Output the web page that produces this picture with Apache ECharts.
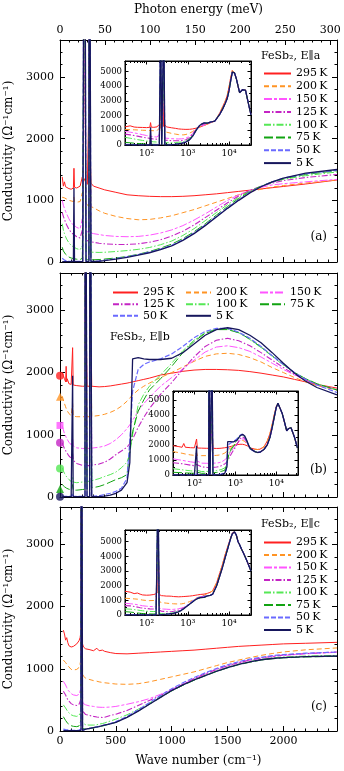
<!DOCTYPE html>
<html lang="en">
<head>
<meta charset="UTF-8">
<title>FeSb2 optical conductivity</title>
<style>
  html, body { margin: 0; padding: 0; background: #fff; }
  #main { width: 344px; height: 771px; }
</style>
</head>
<body>
<div id="main"></div>
<script src="https://cdn.jsdelivr.net/npm/echarts@6.0.0/dist/echarts.min.js"></script>
<script>
var FONT = "'DejaVu Serif', serif";

var temps = ['295\u2009K', '200\u2009K', '150\u2009K', '125\u2009K', '100\u2009K', '75\u2009K', '50\u2009K', '5\u2009K'];
var colors = ['#ff2020', '#ff9424', '#ff55ff', '#c424c4', '#55e855', '#12a312', '#6a6aff', '#16165c'];
var dashes = ['solid', [5, 3], [8, 2, 3, 2], [6, 2, 1.5, 2], [7, 2, 1.5, 2], [9, 3], [5, 2], 'solid'];
var widths = [1, 1, 1, 1.1, 1, 1, 1.2, 1.3];

// E||a  (wave number in cm-1, conductivity in 1/(Ohm cm))
var waveA = [20, 30, 40, 50, 60, 80, 100, 120, 125, 130, 150, 180, 196, 200, 204, 217, 219, 231, 233, 245, 259, 261, 275, 277, 300, 350, 400, 500, 600, 700, 800, 900, 1000, 1100, 1200, 1300, 1400, 1500, 1600, 1700, 1800, 1900, 2000, 2200, 2480];
var a295 = [1380, 1230, 1300, 1220, 1200, 1190, 1180, 1200, 1520, 1210, 1200, 1230, 1260, 1380, 1260, 1250, 1350, 1300, 1280, 1260, 1270, 2800, 1400, 1280, 1230, 1200, 1170, 1130, 1090, 1075, 1065, 1060, 1060, 1065, 1075, 1090, 1105, 1125, 1145, 1165, 1185, 1205, 1225, 1265, 1330];
var a200 = [1050, 1060, 1040, 1030, 1020, 1000, 990, 980, 1050, 980, 970, 980, 1000, 1120, 990, 960, 3800, 3800, 950, 920, 900, 3800, 3800, 900, 880, 830, 790, 740, 705, 685, 690, 715, 750, 800, 850, 910, 970, 1030, 1090, 1140, 1180, 1215, 1240, 1280, 1330];
var a150 = [1000, 920, 870, 820, 780, 700, 640, 600, 640, 590, 560, 540, 560, 700, 540, 520, 4500, 4500, 500, 490, 480, 4500, 4500, 470, 460, 445, 430, 415, 410, 415, 435, 470, 520, 590, 680, 780, 890, 1000, 1090, 1160, 1210, 1250, 1270, 1300, 1340];
var a125 = [800, 740, 690, 640, 600, 530, 480, 450, 480, 440, 410, 390, 400, 520, 380, 370, 4500, 4500, 355, 345, 335, 4500, 4500, 330, 320, 305, 295, 285, 285, 295, 320, 360, 420, 500, 600, 720, 840, 960, 1070, 1160, 1230, 1280, 1320, 1370, 1420];
var a100 = [620, 520, 460, 410, 370, 310, 270, 245, 260, 235, 215, 200, 200, 260, 190, 180, 6000, 6000, 175, 170, 165, 6000, 6000, 160, 158, 155, 158, 170, 185, 205, 235, 280, 340, 430, 540, 670, 800, 930, 1050, 1150, 1230, 1290, 1340, 1400, 1460];
var a75 = [240, 180, 150, 125, 105, 80, 65, 55, 60, 50, 45, 40, 40, 60, 38, 36, 6000, 6000, 35, 35, 35, 6000, 6000, 35, 36, 40, 48, 65, 90, 125, 170, 225, 290, 380, 490, 620, 760, 900, 1030, 1140, 1230, 1300, 1350, 1420, 1480];
var a50 = [60, 40, 30, 25, 20, 15, 12, 10, 12, 10, 10, 10, 10, 15, 10, 10, 9000, 9000, 10, 10, 10, 9000, 9000, 10, 12, 18, 28, 55, 85, 120, 160, 210, 270, 360, 470, 600, 740, 880, 1010, 1130, 1225, 1300, 1360, 1430, 1490];
var a5 = [5, 5, 5, 5, 5, 5, 5, 5, 1200, 5, 5, 5, 5, 10, 5, 5, 9000, 9000, 5, 5, 5, 9000, 9000, 5, 8, 12, 22, 45, 75, 110, 150, 200, 260, 350, 460, 590, 730, 870, 1000, 1120, 1220, 1300, 1360, 1440, 1500];
var hiWaveA = [3000, 3500, 4000, 4500, 5000, 6000, 7000, 8000, 9000, 10000, 11000, 12000, 12800, 13500, 15000, 16500, 18000, 19500, 21000, 23000, 25000, 27000, 30000, 34000];
var hiAwarm = [1420, 1500, 1570, 1620, 1800, 2200, 2600, 2950, 3350, 3950, 4600, 5050, 5080, 4900, 4500, 4000, 3550, 3600, 3750, 3760, 3720, 3300, 2700, 2050];
var hiAcold = [1480, 1550, 1590, 1620, 1750, 2100, 2450, 2800, 3150, 3700, 4400, 4950, 5050, 4900, 4500, 4000, 3550, 3600, 3750, 3760, 3720, 3300, 2700, 2050];

// E||b
var waveB = [20, 30, 40, 50, 55, 60, 65, 80, 100, 108, 113, 118, 150, 200, 224, 226, 240, 242, 250, 266, 268, 282, 284, 300, 350, 400, 450, 500, 550, 600, 625, 650, 700, 750, 800, 900, 1000, 1100, 1200, 1300, 1400, 1500, 1600, 1700, 1800, 1900, 2000, 2100, 2200, 2300, 2480];
var b295 = [2000, 1950, 1900, 1850, 2100, 1850, 1900, 1820, 1810, 1800, 2400, 1800, 1790, 1780, 1780, 3800, 3800, 1780, 1780, 1780, 3800, 3800, 1780, 1775, 1770, 1775, 1785, 1800, 1815, 1830, 1840, 1850, 1870, 1890, 1910, 1960, 1990, 2020, 2040, 2050, 2050, 2045, 2035, 2015, 1990, 1960, 1930, 1890, 1850, 1810, 1750];
var b200 = [1620, 1560, 1500, 1450, 1420, 1400, 1380, 1340, 1310, 1300, 1500, 1300, 1290, 1290, 1290, 3800, 3800, 1290, 1290, 1290, 3800, 3800, 1295, 1300, 1310, 1330, 1360, 1400, 1460, 1540, 1590, 1640, 1720, 1780, 1830, 1920, 2000, 2090, 2180, 2260, 2300, 2310, 2290, 2240, 2170, 2080, 2000, 1920, 1850, 1790, 1720];
var b150 = [1150, 1080, 1020, 980, 960, 940, 920, 880, 840, 830, 950, 820, 790, 780, 780, 4500, 4500, 780, 780, 780, 4500, 4500, 785, 790, 800, 820, 860, 920, 1000, 1100, 1160, 1230, 1380, 1500, 1600, 1780, 1920, 2060, 2200, 2330, 2410, 2430, 2400, 2340, 2250, 2150, 2050, 1960, 1880, 1810, 1730];
var b125 = [870, 820, 780, 750, 730, 715, 700, 660, 620, 600, 700, 590, 540, 510, 505, 4500, 4500, 505, 505, 505, 4500, 4500, 510, 515, 530, 560, 610, 680, 740, 800, 860, 930, 1120, 1280, 1420, 1650, 1840, 2050, 2250, 2420, 2520, 2550, 2510, 2430, 2320, 2200, 2080, 1970, 1880, 1810, 1720];
var b100 = [470, 420, 380, 350, 335, 320, 305, 280, 250, 245, 320, 240, 230, 240, 245, 6000, 6000, 250, 252, 255, 6000, 6000, 262, 270, 295, 330, 360, 400, 470, 560, 700, 1000, 1480, 1650, 1780, 1960, 2150, 2350, 2520, 2640, 2700, 2700, 2640, 2530, 2400, 2260, 2120, 2000, 1900, 1820, 1720];
var b75 = [200, 180, 165, 150, 145, 140, 135, 125, 115, 112, 200, 110, 110, 120, 125, 6000, 6000, 130, 135, 140, 6000, 6000, 145, 150, 170, 200, 240, 280, 310, 360, 750, 1050, 1380, 1560, 1720, 1900, 2100, 2320, 2500, 2630, 2690, 2690, 2640, 2540, 2410, 2270, 2130, 2000, 1900, 1820, 1720];
var b50 = [20, 15, 12, 10, 10, 10, 10, 10, 10, 10, 60, 10, 10, 10, 10, 9000, 9000, 10, 10, 10, 9000, 9000, 10, 12, 20, 40, 60, 90, 140, 300, 900, 1700, 2050, 2130, 2170, 2220, 2300, 2420, 2560, 2660, 2710, 2710, 2650, 2550, 2420, 2270, 2130, 2000, 1890, 1800, 1680];
var b5 = [5, 5, 5, 5, 5, 5, 5, 5, 5, 5, 1950, 5, 5, 5, 5, 9000, 9000, 5, 5, 5, 9000, 9000, 5, 5, 8, 15, 30, 60, 110, 230, 550, 2220, 2240, 2220, 2210, 2210, 2230, 2320, 2460, 2600, 2690, 2720, 2690, 2600, 2480, 2320, 2150, 1990, 1860, 1760, 1640];
var hiWaveB = [3000, 3500, 4000, 5000, 6000, 7000, 8000, 9000, 10000, 11000, 12000, 14000, 16000, 18000, 20000, 23000, 25000, 28000, 33000];
var hiBwarm = [1720, 1700, 1720, 1880, 2250, 2750, 3400, 4050, 4550, 4780, 4650, 4100, 3500, 2950, 3100, 3150, 3050, 2500, 1800];
var hiBcold = [1560, 1500, 1520, 1700, 2000, 2500, 3200, 3900, 4500, 4780, 4650, 4100, 3500, 2950, 3100, 3150, 3050, 2500, 1800];
// dc values drawn at zero frequency in panel (b)
var dcTemps = ['295\u2009K', '200\u2009K', '150\u2009K', '125\u2009K', '100\u2009K', '75\u2009K', '5\u2009K'];
var dcSigma = [1950, 1610, 1150, 870, 460, 130, 5];
var dcShape = ['circle', 'triangle', 'rect', 'circle', 'circle', 'triangle', 'circle'];

// E||c
var waveC = [30, 40, 50, 60, 70, 80, 100, 120, 150, 170, 180, 188, 190, 200, 202, 210, 230, 260, 300, 330, 350, 380, 400, 450, 500, 600, 700, 800, 900, 1000, 1100, 1200, 1300, 1400, 1500, 1600, 1700, 1800, 1900, 2000, 2200, 2480];
var c295 = [1620, 1560, 1460, 1500, 1420, 1370, 1350, 1360, 1400, 1450, 1500, 1600, 6000, 6000, 1400, 1350, 1320, 1310, 1290, 1330, 1290, 1300, 1280, 1260, 1245, 1240, 1250, 1260, 1270, 1280, 1290, 1300, 1315, 1330, 1345, 1360, 1370, 1380, 1390, 1400, 1410, 1425];
var c200 = [1140, 1120, 1100, 1080, 1050, 1020, 990, 980, 990, 1020, 1080, 1150, 6000, 6000, 920, 880, 850, 830, 810, 800, 790, 780, 775, 765, 755, 750, 760, 790, 830, 870, 910, 950, 1000, 1050, 1100, 1140, 1180, 1215, 1245, 1270, 1305, 1335];
var c150 = [800, 770, 740, 700, 660, 630, 600, 580, 570, 590, 640, 700, 6000, 6000, 480, 440, 420, 405, 395, 385, 382, 380, 380, 385, 395, 430, 470, 520, 590, 670, 750, 840, 915, 985, 1045, 1095, 1135, 1170, 1195, 1215, 1240, 1265];
var c125 = [640, 620, 580, 540, 500, 470, 440, 420, 410, 430, 470, 530, 6000, 6000, 320, 290, 265, 250, 235, 225, 220, 218, 220, 250, 270, 330, 410, 490, 570, 660, 750, 840, 920, 990, 1050, 1100, 1140, 1175, 1200, 1220, 1245, 1270];
var c100 = [420, 400, 370, 340, 310, 290, 260, 245, 235, 250, 290, 350, 6000, 6000, 130, 110, 100, 95, 95, 100, 110, 120, 130, 160, 190, 260, 350, 450, 550, 645, 735, 820, 895, 965, 1025, 1075, 1115, 1150, 1175, 1190, 1205, 1215];
var c75 = [230, 200, 170, 140, 120, 100, 85, 75, 70, 80, 130, 180, 9000, 9000, 40, 35, 30, 35, 50, 60, 70, 80, 90, 115, 140, 220, 320, 430, 540, 645, 735, 815, 888, 955, 1015, 1065, 1105, 1140, 1160, 1175, 1190, 1200];
var c50 = [30, 25, 22, 20, 18, 16, 14, 12, 12, 14, 20, 30, 9000, 9000, 10, 20, 30, 40, 55, 65, 75, 88, 98, 120, 150, 235, 340, 455, 570, 680, 775, 860, 935, 1005, 1065, 1115, 1155, 1185, 1210, 1228, 1250, 1270];
var c5 = [5, 5, 5, 5, 5, 5, 5, 5, 5, 5, 5, 10, 9000, 9000, 10, 20, 30, 40, 55, 65, 72, 85, 95, 115, 140, 220, 320, 430, 540, 650, 740, 820, 890, 960, 1020, 1070, 1110, 1145, 1165, 1180, 1195, 1205];
var hiWaveC = [3000, 3500, 4000, 5000, 6000, 7000, 8000, 9000, 10000, 11000, 12000, 13500, 15000, 16500, 18000, 20000, 23000, 27000, 34000];
var hiCwarm = [1480, 1550, 1650, 2200, 2900, 3500, 4100, 4550, 4950, 5300, 5580, 5680, 5450, 5000, 4800, 4500, 4150, 3700, 3000];
var hiCcold = [1300, 1340, 1420, 2000, 2700, 3300, 3900, 4400, 4850, 5250, 5550, 5680, 5450, 5000, 4800, 4500, 4150, 3700, 3000];

var logMajor = [100, 1000, 10000];
var logMinor = [];
[10, 100, 1000, 10000].forEach(function (d) {
    for (var k = 2; k <= 9; k++) {
        if (k * d > 30 && k * d < 34000) logMinor.push(k * d);
    }
});
var logLabel = { 2: '10\u00b2', 3: '10\u00b3', 4: '10\u2074' };

var waveMax = 2480;
var sigmaMax = 3600;
var cmPerMeV = 8.0655;

var panels = [
    { wave: waveA, sets: [a295, a200, a150, a125, a100, a75, a50, a5], hiWave: hiWaveA, hiWarm: hiAwarm, hiCold: hiAcold },
    { wave: waveB, sets: [b295, b200, b150, b125, b100, b75, b50, b5], hiWave: hiWaveB, hiWarm: hiBwarm, hiCold: hiBcold },
    { wave: waveC, sets: [c295, c200, c150, c125, c100, c75, c50, c5], hiWave: hiWaveC, hiWarm: hiCwarm, hiCold: hiCcold }
];

var mainGrids = [
    { left: 60, top: 40, width: 277, height: 222 },
    { left: 60, top: 273, width: 277, height: 224 },
    { left: 60, top: 507, width: 277, height: 224 }
];
var insetGrids = [
    { left: 125, top: 61, width: 126, height: 84, ymax: 5700 },
    { left: 173, top: 391, width: 125, height: 84, ymax: 5600 },
    { left: 125, top: 530, width: 126, height: 85, ymax: 5800 }
];

var black = { color: '#000', width: 1 };
function plain(v) { return String(Math.round(v)); }

function xMain(grid, pos, withLabels) {
    return {
        type: 'value', gridIndex: grid, position: pos, min: 0, max: waveMax, interval: 500,
        axisLine: { onZero: false, lineStyle: black },
        axisTick: { inside: true, length: 5, lineStyle: black },
        minorTick: { show: true, splitNumber: 5, length: 2.5, lineStyle: black },
        splitLine: { show: false },
        axisLabel: { show: withLabels, margin: 5, fontSize: 11, fontFamily: FONT, color: '#000', showMaxLabel: false, formatter: plain }
    };
}

function yMain(grid, pos, withLabels) {
    var ax = {
        type: 'value', gridIndex: grid, position: pos, min: 0, max: sigmaMax, interval: 1000,
        axisLine: { onZero: false, lineStyle: black },
        axisTick: { inside: true, length: 5, lineStyle: black },
        minorTick: { show: true, splitNumber: 5, length: 2.5, lineStyle: black },
        splitLine: { show: false },
        axisLabel: { show: withLabels, margin: 6, fontSize: 11, fontFamily: FONT, color: '#000', showMaxLabel: false, formatter: plain }
    };
    if (withLabels) {
        ax.name = 'Conductivity (\u03a9\u207b\u00b9cm\u207b\u00b9)';
        ax.nameLocation = 'middle';
        ax.nameGap = 42;
        ax.nameTextStyle = { fontSize: 12, fontFamily: FONT, color: '#000' };
    }
    return ax;
}

function xInset(grid, pos, ticks, len, withLabels) {
    return {
        type: 'log', logBase: 10, gridIndex: grid, position: pos, min: 30, max: 34000, z: 11,
        axisLine: { onZero: false, lineStyle: black },
        axisTick: { inside: true, length: len, customValues: ticks, lineStyle: black },
        minorTick: { show: false },
        splitLine: { show: false },
        axisLabel: {
            show: withLabels, customValues: logMajor, margin: 4, fontSize: 9, fontFamily: FONT, color: '#000',
            formatter: function (v) { return logLabel[Math.round(Math.log(v) / Math.LN10)] || ''; }
        }
    };
}

function yInset(grid, pos, ymax, withLabels) {
    return {
        type: 'value', gridIndex: grid, position: pos, min: 0, max: ymax, interval: 1000, z: 11,
        axisLine: { onZero: false, lineStyle: black },
        axisTick: { inside: true, length: 3.5, lineStyle: black },
        minorTick: { show: true, splitNumber: 2, length: 2, lineStyle: black },
        splitLine: { show: false },
        axisLabel: { show: withLabels, margin: 3, fontSize: 8.5, fontFamily: FONT, color: '#000', showMaxLabel: false, formatter: plain }
    };
}

var xAxes = [];
var yAxes = [];
[0, 1, 2].forEach(function (k) {
    var bottom = xMain(k, 'bottom', k === 2);
    if (k === 2) {
        bottom.name = 'Wave number (cm\u207b\u00b9)';
        bottom.nameLocation = 'middle';
        bottom.nameGap = 24;
        bottom.nameTextStyle = { fontSize: 12, fontFamily: FONT, color: '#000' };
    }
    xAxes.push(bottom);
    if (k === 0) {
        var top = xMain(0, 'top', true);
        top.max = waveMax / cmPerMeV;
        top.interval = 50;
        top.axisLabel.margin = 4;
        top.name = 'Photon energy (meV)';
        top.nameLocation = 'middle';
        top.nameGap = 24;
        top.nameTextStyle = { fontSize: 12, fontFamily: FONT, color: '#000' };
        xAxes.push(top);
    } else {
        xAxes.push(xMain(k, 'top', false));
    }
    yAxes.push(yMain(k, 'left', true), yMain(k, 'right', false));
});
insetGrids.forEach(function (g, k) {
    var gi = 3 + k;
    xAxes.push(xInset(gi, 'bottom', logMajor, 3.5, true), xInset(gi, 'bottom', logMinor, 2, false),
        xInset(gi, 'top', logMajor, 3.5, false), xInset(gi, 'top', logMinor, 2, false));
    yAxes.push(yInset(gi, 'left', g.ymax, true), yInset(gi, 'right', g.ymax, false));
});

function lineSeries(name, i, data, xi, yi, z) {
    return {
        type: 'line', name: name, data: data, xAxisIndex: xi, yAxisIndex: yi,
        symbol: 'none', z: z, clip: true, silent: true,
        lineStyle: { color: colors[i], width: widths[i], type: dashes[i] },
        itemStyle: { color: colors[i] }
    };
}

var series = [];
panels.forEach(function (p, k) {
    temps.forEach(function (t, i) {
        var pts = p.wave.map(function (x, j) { return [x, p.sets[i][j]]; });
        series.push(lineSeries(t, i, pts, 2 * k, 2 * k, 2));
    });
});
panels.forEach(function (p, k) {
    temps.forEach(function (t, i) {
        var hi = i < 2 ? p.hiWarm : p.hiCold;
        var pts = p.wave.map(function (x, j) { return [x, p.sets[i][j]]; })
            .filter(function (d) { return d[0] >= 30; })
            .concat(p.hiWave.map(function (x, j) { return [x, hi[j]]; }));
        series.push(lineSeries(t, i, pts, 6 + 4 * k, 6 + 2 * k, 12));
    });
});
dcTemps.forEach(function (t, j) {
    var i = temps.indexOf(t);
    series.push({
        type: 'scatter', name: 'dc ' + t, xAxisIndex: 2, yAxisIndex: 2,
        data: [[0, dcSigma[j]]], symbol: dcShape[j], symbolSize: dcShape[j] === 'rect' ? 7 : 8,
        itemStyle: { color: colors[i] }, clip: false, z: 6, silent: true
    });
});

function legend(names, left, top, itemWidth, gap) {
    return {
        data: names, orient: 'vertical', left: left, top: top, padding: 0,
        itemWidth: itemWidth, itemHeight: 11, itemGap: gap, selectedMode: false, z: 20,
        itemStyle: { opacity: 0 },
        textStyle: { fontFamily: FONT, fontSize: 11, color: '#000', lineHeight: 11 }
    };
}

function label(text, x, y, align, size) {
    return {
        type: 'text', x: x, y: y, z: 30, silent: true,
        style: {
            text: text, fill: '#000', font: size + 'px ' + FONT,
            textAlign: align, align: align, textVerticalAlign: 'middle', verticalAlign: 'middle'
        }
    };
}

var option = {
    animation: false,
    backgroundColor: '#fff',
    textStyle: { fontFamily: FONT, color: '#000' },
    grid: mainGrids.map(function (g) {
        return { left: g.left, top: g.top, width: g.width, height: g.height, show: false, containLabel: false, outerBoundsMode: 'none' };
    }).concat(insetGrids.map(function (g) {
        return {
            left: g.left, top: g.top, width: g.width, height: g.height, show: true, containLabel: false, outerBoundsMode: 'none',
            backgroundColor: '#fff', borderColor: '#000', borderWidth: 1, z: 10
        };
    })),
    xAxis: xAxes,
    yAxis: yAxes,
    legend: [
        legend(temps, 263, 68, 27, 1.8),
        legend([temps[0], temps[3], temps[6]], 112, 287, 25, 0.65),
        legend([temps[1], temps[4], temps[7]], 185, 287, 25, 0.65),
        legend([temps[2], temps[5]], 259, 287, 25, 0.65),
        legend(temps, 263, 537, 27, 1.5)
    ],
    graphic: [
        label('FeSb\u2082, E\u2225a', 261, 56, 'left', 11),
        label('(a)', 327, 237, 'right', 12),
        label('FeSb\u2082, E\u2225b', 110, 337, 'left', 11),
        label('(b)', 327, 470, 'right', 12),
        label('FeSb\u2082, E\u2225c', 261, 524, 'left', 11),
        label('(c)', 327, 707, 'right', 12)
    ],
    series: series
};

var chart = echarts.init(document.getElementById('main'));
chart.setOption(option);
</script>
</body>
</html>
